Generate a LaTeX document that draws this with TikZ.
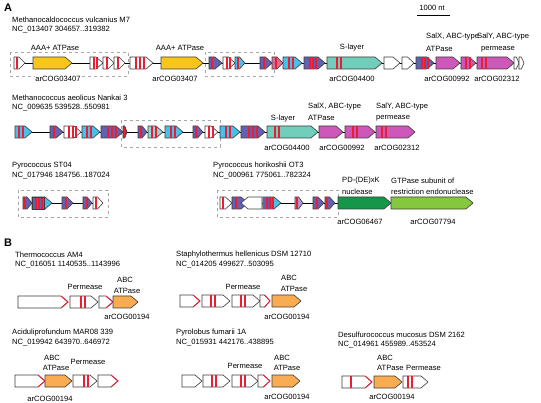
\documentclass[tikz,border=0pt]{standalone}
\usepackage{fontspec}
\setmainfont{Liberation Sans}
\definecolor{gyel}{RGB}{248,198,24}
\definecolor{gteal}{RGB}{112,206,186}
\definecolor{gmag}{RGB}{206,88,186}
\definecolor{glb}{RGB}{72,192,236}
\definecolor{gpur}{RGB}{98,98,178}
\definecolor{gpal}{RGB}{150,212,214}
\definecolor{glil}{RGB}{172,152,212}
\definecolor{gsal}{RGB}{214,110,150}
\definecolor{gdg}{RGB}{22,150,72}
\definecolor{glg}{RGB}{132,200,62}
\definecolor{gor}{RGB}{250,172,82}
\definecolor{sred}{RGB}{232,30,52}
\definecolor{gout}{RGB}{60,60,60}
\tikzset{
  gl/.style={draw=gout, line width=0.6pt, line join=miter},
  lbl/.style={font=\fontsize{7.6}{9}\selectfont, inner sep=0pt},
  lblw/.style={lbl, fill=white, inner sep=0.6pt},
  hdr/.style={lbl, anchor=west},
  boxd/.style={draw=gray!70, dashed, line width=0.5pt},
  bb/.style={draw=black, line width=0.8pt}
}
\newcommand\genefwd[4]{%
  \pgfmathsetmacro\tp{min(7,0.55*(#2-#1))}%
  \filldraw[gl, fill=#4] (#1,#3-6) -- ({#2-\tp},#3-6) -- (#2,#3) -- ({#2-\tp},#3+6) -- (#1,#3+6) -- cycle;}
\newcommand\generev[4]{%
  \pgfmathsetmacro\tp{min(7,0.55*(#2-#1))}%
  \filldraw[gl, fill=#4] (#2,#3-6) -- ({#1+\tp},#3-6) -- (#1,#3) -- ({#1+\tp},#3+6) -- (#2,#3+6) -- cycle;}
\newcommand\gstr[2]{\fill[sred] (#1,#2-5.6) rectangle ++(1.6,11.2);}
\newcommand\redtip[3]{%
  \pgfmathsetmacro\tp{min(7,0.55*(#2-#1))}%
  \draw[sred, line width=0.9pt] ({#2-\tp},#3-6) -- (#2,#3) -- ({#2-\tp},#3+6);}
\begin{document}
\begin{tikzpicture}[x=1pt,y=-1pt]
\useasboundingbox (0,0) rectangle (541,403);

% ---------------- Panel A ----------------
\node[anchor=west, inner sep=0, font=\bfseries\fontsize{11}{12}\selectfont] (labA) at (4,8) {A};
\draw[line width=1pt] (417,16) coordinate (sb1) -- (450,16) coordinate (sb2);
\node[lbl] (sbt) at (432,8) {1000 nt};

% Row 1
\node[hdr] (h1a) at (12,20) {Methanocaldococcus vulcanius M7};
\node[hdr] (h1b) at (12,30) {NC\_013407 304657..319382};
\draw[boxd] (10,52) rectangle (128,76);
\draw[boxd] (205,52) rectangle (274,76);
\draw[bb] (14,63) -- (524,63);
\genefwd{14}{25}{63}{white}\gstr{16}{63}
\genefwd{33}{72}{63}{gyel}
\genefwd{90}{103}{63}{white}\foreach \s in {93,96}{\gstr{\s}{63}}
\genefwd{103}{114}{63}{white}\gstr{106}{63}
\genefwd{114}{125}{63}{white}\gstr{117}{63}
\genefwd{130}{153}{63}{white}\foreach \s in {135,139,143}{\gstr{\s}{63}}
\genefwd{161}{203}{63}{gyel}
\genefwd{209}{222}{63}{gpur}\gstr{211}{63}
\genefwd{223}{235}{63}{white}\foreach \s in {226,229}{\gstr{\s}{63}}
\genefwd{235}{245}{63}{glb}\gstr{237}{63}
\genefwd{260}{272}{63}{gpur}\gstr{263}{63}
\genefwd{272}{283}{63}{gsal}\gstr{275}{63}
\genefwd{283}{302}{63}{glb}\foreach \s in {288,292}{\gstr{\s}{63}}
\genefwd{304}{325}{63}{gpur}\foreach \s in {309,312,315}{\gstr{\s}{63}}
\genefwd{327}{382}{63}{gteal}\foreach \s in {336,340}{\gstr{\s}{63}}
\genefwd{384}{400}{63}{white}
\genefwd{402}{414}{63}{white}
\genefwd{416}{434}{63}{gpur}\foreach \s in {421,424,427}{\gstr{\s}{63}}
\genefwd{436}{460}{63}{gmag}
\genefwd{461}{476}{63}{gmag}\foreach \s in {465,469}{\gstr{\s}{63}}
\genefwd{477}{514}{63}{gmag}\foreach \s in {481,485}{\gstr{\s}{63}}
\genefwd{514}{519}{63}{white}
\genefwd{519}{524}{63}{white}
\node[lbl] (l1a) at (55,48) {AAA+ ATPase};
\node[lblw] (l1b) at (58,79) {arCOG03407};
\node[lbl] (l1c) at (180,48) {AAA+ ATPase};
\node[lbl] (l1d) at (175,79) {arCOG03407};
\node[lbl] (l1e) at (352,48) {S-layer};
\node[lbl] (l1f) at (352,79) {arCOG04400};
\node[lbl, anchor=west] (l1g) at (426,37) {SalX, ABC-type};
\node[lbl, anchor=west] (l1h) at (426,49) {ATPase};
\node[lbl, anchor=west] (l1i) at (477,37) {SalY, ABC-type};
\node[lbl] (l1j) at (498,49) {permease};
\node[lbl] (l1k) at (447,79) {arCOG00992};
\node[lbl] (l1l) at (497,79) {arCOG02312};

% Row 2
\node[hdr] (h2a) at (12,98) {Methanococcus aeolicus Nankai 3};
\node[hdr] (h2b) at (12,108) {NC\_009635 539528..550981};
\draw[boxd] (121,120) rectangle (220,147);
\draw[bb] (15,132) -- (415,132);
\genefwd{15}{32}{132}{glb}\foreach \s in {18,22}{\gstr{\s}{132}}
\genefwd{50}{63}{132}{gpur}\gstr{53}{132}
\genefwd{64}{81}{132}{white}\foreach \s in {68,72,75}{\gstr{\s}{132}}
\genefwd{82}{100}{132}{glb}\foreach \s in {86,90}{\gstr{\s}{132}}
\genefwd{101}{123}{132}{gpur}\foreach \s in {107,111,115}{\gstr{\s}{132}}
\genefwd{123}{127}{132}{sred}
\genefwd{138}{147}{132}{gpur}\gstr{140}{132}
\genefwd{148}{163}{132}{gpal}\foreach \s in {151,155}{\gstr{\s}{132}}
\genefwd{165}{183}{132}{glb}\foreach \s in {170,174}{\gstr{\s}{132}}
\genefwd{193}{203}{132}{gpur}\gstr{195}{132}
\genefwd{205}{218}{132}{white}\foreach \s in {208,212}{\gstr{\s}{132}}
\genefwd{220}{240}{132}{glb}\foreach \s in {225,229}{\gstr{\s}{132}}
\genefwd{241}{265}{132}{gpur}\foreach \s in {248,252,256}{\gstr{\s}{132}}
\genefwd{267}{318}{132}{gteal}\foreach \s in {274,278}{\gstr{\s}{132}}
\genefwd{319}{343}{132}{gmag}
\genefwd{345}{375}{132}{gmag}\foreach \s in {352,356}{\gstr{\s}{132}}
\genefwd{376}{415}{132}{gmag}\foreach \s in {381,385}{\gstr{\s}{132}}
\node[lbl] (l2a) at (283,119) {S-layer};
\node[lbl] (l2b) at (287,148) {arCOG04400};
\node[lbl, anchor=west] (l2c) at (308,107) {SalX, ABC-type};
\node[lbl, anchor=west] (l2d) at (308,118) {ATPase};
\node[lbl, anchor=west] (l2e) at (376,107) {SalY, ABC-type};
\node[lbl, anchor=west] (l2f) at (376,118) {permease};
\node[lbl] (l2g) at (342,148) {arCOG00992};
\node[lbl] (l2h) at (397,148) {arCOG02312};

% Row 3 left
\node[hdr] (h3a) at (12,166) {Pyrococcus ST04};
\node[hdr] (h3b) at (12,176) {NC\_017946 184756..187024};
\draw[boxd] (18,190) rectangle (108,217);
\draw[bb] (23,203) -- (103,203);
\genefwd{23}{32}{203}{gpur}\gstr{24}{203}
\genefwd{32}{52}{203}{glb}\fill[gpur] (32.4,197.4) rectangle (44,208.6);\foreach \s in {35,38,41}{\gstr{\s}{203}}\draw[gl] (32,197) rectangle (44,209);
\genefwd{62}{73}{203}{gpur}\gstr{65}{203}
\genefwd{83}{92}{203}{gpur}\gstr{86}{203}
\genefwd{93}{103}{203}{white}\gstr{95}{203}

% Row 3 right
\node[hdr] (h4a) at (213,166) {Pyrococcus horikoshii OT3};
\node[hdr] (h4b) at (213,176) {NC\_000961 775061..782324};
\draw[boxd] (217,190) rectangle (338,217);
\draw[bb] (220,203) -- (473,203);
\genefwd{220}{232}{203}{white}\gstr{222}{203}
\genefwd{232}{248}{203}{gpur}\gstr{235}{203}
\generev{241}{262}{203}{white}
\genefwd{263}{281}{203}{glb}\fill[gpur] (263.4,197.4) rectangle (274,208.6);\foreach \s in {266,269,272}{\gstr{\s}{203}}
\genefwd{295}{303}{203}{glil}\gstr{296}{203}
\genefwd{313}{324}{203}{gpur}\gstr{316}{203}
\genefwd{325}{335}{203}{gpur}\gstr{326}{203}
\genefwd{338}{391}{203}{gdg}
\genefwd{391}{473}{203}{glg}
\node[lbl, anchor=west] (l4a) at (342,181) {PD-(DE)xK};
\node[lbl, anchor=west] (l4b) at (342,192) {nuclease};
\node[lbl, anchor=west] (l4c) at (391,181) {GTPase subunit of};
\node[lbl, anchor=west] (l4d) at (391,192) {restriction endonuclease};
\node[lbl] (l4e) at (360,222) {arCOG06467};
\node[lbl] (l4f) at (433,222) {arCOG07794};

% ---------------- Panel B ----------------
\node[anchor=west, inner sep=0, font=\bfseries\fontsize{11}{12}\selectfont] (labB) at (4,243) {B};

% Thermococcus AM4
\node[hdr] (b1a) at (15,255) {Thermococcus AM4};
\node[hdr] (b1b) at (15,265) {NC\_016051 1140535..1143996};
\genefwd{18}{68}{302}{white}\redtip{18}{68}{302}
\genefwd{70}{98}{302}{white}\foreach \s in {80,84}{\gstr{\s}{302}}
\genefwd{99}{113}{302}{white}\redtip{99}{113}{302}
\genefwd{113}{138}{302}{gor}
\node[lbl] (b1c) at (85,287) {Permease};
\node[lbl] (b1d) at (125,280) {ABC};
\node[lbl] (b1e) at (127,291) {ATPase};
\node[lbl] (b1f) at (127,317) {arCOG00194};

% Staphylothermus
\node[hdr] (b2a) at (176,255) {Staphylothermus hellenicus DSM 12710};
\node[hdr] (b2b) at (176,265) {NC\_014205 499627..503095};
\genefwd{180}{200}{301}{white}\redtip{180}{200}{301}
\genefwd{202}{230}{301}{white}\foreach \s in {210,214}{\gstr{\s}{301}}
\genefwd{232}{260}{301}{white}\foreach \s in {240,244}{\gstr{\s}{301}}
\genefwd{260}{270}{301}{white}\redtip{260}{270}{301}
\genefwd{272}{301}{301}{gor}
\node[lbl] (b2c) at (243,287) {Permease};
\node[lbl] (b2d) at (289,278) {ABC};
\node[lbl] (b2e) at (294,289) {ATPase};
\node[lbl] (b2f) at (287,317) {arCOG00194};

% Aciduliprofundum
\node[hdr] (b3a) at (12,333) {Aciduliprofundum MAR08 339};
\node[hdr] (b3b) at (12,343) {NC\_019942 643970..646972};
\genefwd{15}{45}{381}{white}\redtip{15}{45}{381}
\genefwd{45}{72}{381}{gor}
\genefwd{73}{97}{381}{white}\foreach \s in {83,87}{\gstr{\s}{381}}
\genefwd{98}{118}{381}{white}\redtip{98}{118}{381}
\node[lbl] (b3c) at (52,358) {ABC};
\node[lbl] (b3d) at (56,368) {ATPase};
\node[lbl] (b3e) at (88,362) {Permease};
\node[lbl] (b3f) at (50,399) {arCOG00194};

% Pyrolobus
\node[hdr] (b4a) at (176,333) {Pyrolobus fumarii 1A};
\node[hdr] (b4b) at (176,343) {NC\_015931 442176..438895};
\genefwd{182}{202}{381}{white}
\genefwd{203}{230}{381}{white}\foreach \s in {211,215}{\gstr{\s}{381}}
\genefwd{232}{258}{381}{white}\foreach \s in {240,244}{\gstr{\s}{381}}
\genefwd{258}{270}{381}{white}\redtip{258}{270}{381}
\genefwd{272}{300}{381}{gor}
\node[lbl] (b4c) at (245,366) {Permease};
\node[lbl] (b4d) at (282,358) {ABC};
\node[lbl] (b4e) at (287,368) {ATPase};
\node[lbl] (b4f) at (287,397) {arCOG00194};

% Desulfurococcus
\node[hdr] (b5a) at (338,335) {Desulfurococcus mucosus DSM 2162};
\node[hdr] (b5b) at (338,345) {NC\_014961 455989..453524};
\genefwd{342}{372}{382}{white}\gstr{350}{382}\redtip{342}{372}{382}
\genefwd{374}{402}{382}{gor}
\genefwd{403}{428}{382}{white}\foreach \s in {407,411}{\gstr{\s}{382}}
\node[lbl, anchor=west] (b5c) at (377,358) {ABC};
\node[lbl, anchor=west] (b5d) at (377,368) {ATPase};
\node[lbl, anchor=west] (b5e) at (406,368) {Permease};
\node[lbl] (b5f) at (392,397) {arCOG00194};
\end{tikzpicture}
\end{document}
